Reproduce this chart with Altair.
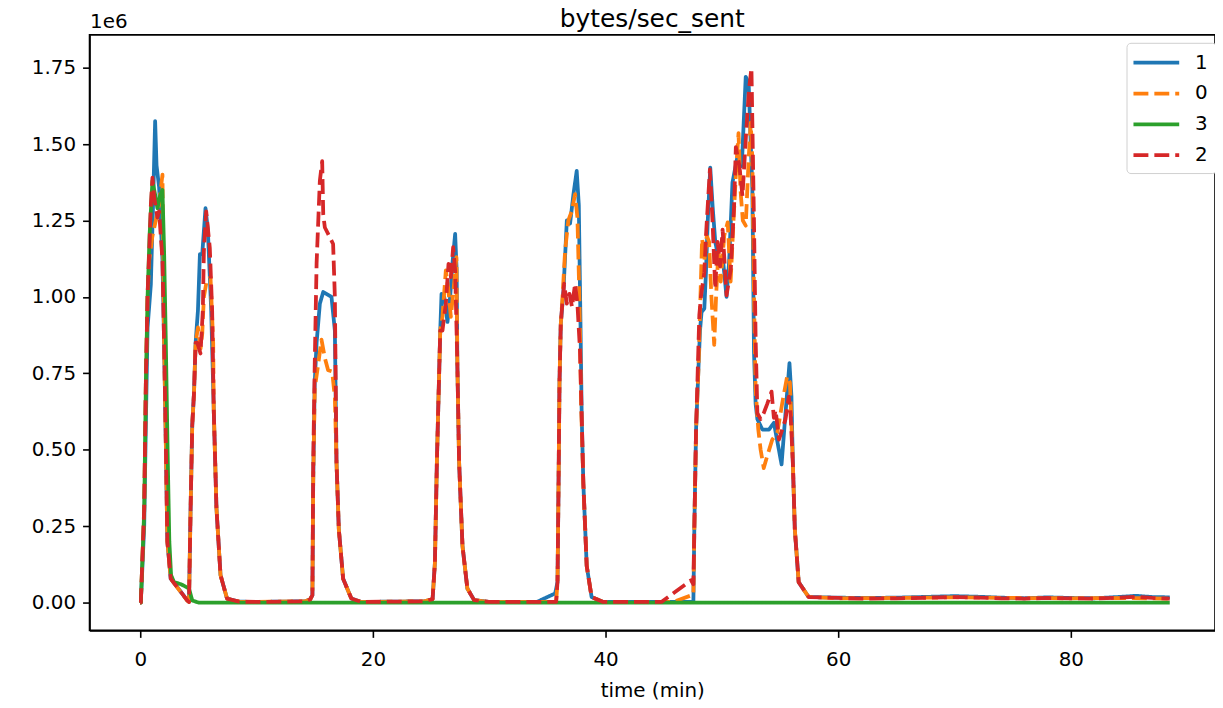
import altair as alt
import pandas as pd

series_names = ["1", "0", "3", "2"]
series_colors = ["#1f77b4", "#ff7f0e", "#2ca02c", "#d62728"]
series_dashes = [[1, 0], [15, 6], [1, 0], [15, 6]]

x_ticks = [0, 20, 40, 60, 80]
y_ticks = [0.0, 0.25, 0.5, 0.75, 1.0, 1.25, 1.5, 1.75]

# (time in min, bytes/sec in units of 1e6)
s1_points = [
    (0.0, 0.0), (0.05, 0.0), (0.34, 0.25), (0.49, 0.6), (0.63, 0.9), (0.91, 1.04), (1.1, 1.3), (1.28, 1.575),
    (1.4, 1.43), (1.62, 1.36), (1.91, 1.12), (2.05, 0.85), (2.2, 0.52), (2.33, 0.2), (2.62, 0.078), (3.3, 0.045),
    (4.04, 0.007), (4.19, 0.002),
    (4.33, 0.31), (4.47, 0.58), (4.62, 0.685), (4.76, 0.85), (4.96, 0.956), (5.13, 1.14), (5.33, 1.14), (5.61, 1.29),
    (5.81, 1.22), (6.1, 0.956), (6.32, 0.63), (6.55, 0.31), (6.9, 0.09), (7.46, 0.013), (8.5, 0.003), (10.0, 0.002),
    (14.16, 0.004), (14.6, 0.01), (14.8, 0.024), (14.87, 0.4), (15.0, 0.72), (15.16, 0.85), (15.44, 0.978), (15.73, 1.016),
    (16.0, 1.01), (16.44, 1.0), (16.73, 0.89), (16.87, 0.46), (17.07, 0.24), (17.44, 0.078), (18.15, 0.013), (19.0, 0.002),
    (24.4, 0.004), (25.13, 0.011), (25.33, 0.13), (25.5, 0.46), (25.64, 0.67), (25.79, 0.89), (25.9, 1.01), (26.13, 1.0),
    (26.41, 0.918), (26.64, 1.0), (26.84, 1.11), (27.07, 1.206), (27.2, 1.087), (27.26, 0.78), (27.41, 0.46), (27.7, 0.186),
    (28.12, 0.046), (28.7, 0.008), (30.0, 0.002),
    (34.1, 0.002), (35.67, 0.03), (35.87, 0.067), (35.96, 0.39), (36.04, 0.72), (36.15, 0.91), (36.38, 1.02), (36.67, 1.25),
    (36.95, 1.24), (37.24, 1.336), (37.52, 1.412), (37.7, 1.3), (37.85, 0.9), (37.95, 0.61), (38.09, 0.39), (38.38, 0.12),
    (38.8, 0.018), (39.8, 0.002),
    (47.55, 0.002), (47.63, 0.24), (47.78, 0.566), (48.0, 0.78), (48.12, 0.89), (48.25, 0.95), (48.49, 0.962), (48.63, 1.08),
    (48.78, 1.244), (49.0, 1.423), (49.2, 1.298), (49.43, 1.18), (49.77, 1.114), (50.06, 1.135), (50.4, 1.0), (50.62, 1.114),
    (50.91, 1.374), (51.34, 1.46), (51.71, 1.428), (52.05, 1.72), (52.3, 1.7), (52.62, 1.352), (52.76, 0.82), (52.9, 0.65),
    (53.05, 0.6), (53.48, 0.566), (54.05, 0.566), (54.47, 0.588), (54.9, 0.5), (55.13, 0.452), (55.47, 0.62), (55.81, 0.783),
    (55.98, 0.674), (56.1, 0.458), (56.27, 0.24), (56.6, 0.067), (57.46, 0.018),
    (60, 0.016), (62, 0.015), (65, 0.016), (68, 0.019), (70, 0.021), (72, 0.019), (74, 0.016), (76, 0.014),
    (78, 0.017), (80, 0.015), (82, 0.014), (84, 0.018), (85.6, 0.022), (87, 0.018), (88.5, 0.017),
]

s0_points = [
    (0.0, 0.0), (0.05, 0.0), (0.34, 0.3), (0.49, 0.74), (0.63, 1.0), (0.77, 1.12), (1.05, 1.2), (1.34, 1.25),
    (1.6, 1.3), (1.91, 1.40), (2.05, 0.85), (2.2, 0.52), (2.33, 0.2), (2.62, 0.078), (4.04, 0.006), (4.19, 0.002),
    (4.33, 0.31), (4.47, 0.58), (4.62, 0.685), (4.76, 0.85), (4.96, 0.9), (5.18, 0.83), (5.33, 0.88), (5.47, 1.0),
    (5.7, 1.05), (6.04, 1.065), (6.27, 0.85), (6.32, 0.63), (6.55, 0.31), (6.9, 0.09), (7.46, 0.013), (8.5, 0.003),
    (10.0, 0.002),
    (14.16, 0.004), (14.6, 0.01), (14.8, 0.024), (14.87, 0.4), (15.0, 0.7), (15.3, 0.78), (15.58, 0.86), (15.87, 0.8),
    (16.15, 0.76), (16.5, 0.756), (16.73, 0.67), (16.87, 0.46), (17.07, 0.24), (17.44, 0.078), (18.15, 0.013), (19.0, 0.002),
    (24.4, 0.004), (25.13, 0.011), (25.33, 0.13), (25.5, 0.46), (25.64, 0.67), (25.79, 0.89), (25.98, 0.935), (26.27, 1.087),
    (26.47, 1.03), (26.7, 0.935), (26.98, 1.043), (27.18, 1.13), (27.26, 0.78), (27.41, 0.46), (27.7, 0.186), (28.12, 0.046),
    (28.7, 0.008), (30.0, 0.002),
    (35.75, 0.002), (35.87, 0.067), (35.96, 0.39), (36.04, 0.72), (36.15, 0.91), (36.3, 1.0), (36.52, 1.15), (36.8, 1.25),
    (37.09, 1.28), (37.38, 1.336), (37.58, 1.26), (37.75, 1.0), (37.9, 0.65), (38.09, 0.39), (38.38, 0.12), (38.8, 0.018),
    (39.8, 0.002),
    (45.8, 0.002), (47.55, 0.026), (47.63, 0.24), (47.78, 0.566), (48.0, 0.78), (48.12, 0.95), (48.3, 1.19), (48.5, 1.12),
    (48.7, 1.2), (48.9, 1.18), (49.1, 1.0), (49.34, 0.843), (49.5, 1.0), (49.7, 1.15), (49.9, 1.05), (50.2, 1.2),
    (50.5, 1.244), (50.75, 1.05), (51.0, 1.25), (51.2, 1.4), (51.43, 1.536), (51.6, 1.35), (51.8, 1.25), (52.05, 1.233),
    (52.3, 1.45), (52.48, 1.57), (52.62, 1.45), (52.76, 1.0), (52.9, 0.7), (53.13, 0.566), (53.33, 0.5), (53.6, 0.44),
    (53.9, 0.48), (54.33, 0.533), (54.76, 0.555), (55.19, 0.653), (55.61, 0.74), (55.85, 0.72), (56.1, 0.458), (56.27, 0.24),
    (56.6, 0.067), (57.46, 0.018),
    (60, 0.014), (65, 0.015), (70, 0.017), (75, 0.015), (80, 0.014), (85, 0.015), (88.5, 0.013),
]

s3_points = [
    (0.0, 0.0), (0.05, 0.0), (0.34, 0.3), (0.49, 0.74), (0.63, 1.0), (0.8, 1.2), (1.05, 1.38), (1.3, 1.33),
    (1.48, 1.29), (1.7, 1.33), (1.91, 1.35), (2.05, 1.15), (2.2, 0.85), (2.35, 0.5), (2.5, 0.2), (2.65, 0.09),
    (2.9, 0.067), (3.5, 0.06), (4.19, 0.046), (4.47, 0.007), (5.0, 0.0), (88.5, 0.0),
]

s2_points = [
    (0.0, 0.0), (0.05, 0.0), (0.34, 0.31), (0.49, 0.74), (0.63, 1.01), (0.77, 1.15), (0.91, 1.30), (1.05, 1.39),
    (1.2, 1.325), (1.48, 1.26), (1.62, 1.28), (1.91, 1.12), (2.05, 0.85), (2.2, 0.52), (2.33, 0.2), (2.62, 0.078),
    (4.04, 0.007), (4.19, 0.002),
    (4.33, 0.31), (4.47, 0.58), (4.62, 0.685), (4.76, 0.85), (4.9, 0.85), (5.18, 0.815), (5.38, 0.956), (5.47, 1.15),
    (5.67, 1.28), (5.98, 1.16), (6.18, 0.956), (6.32, 0.63), (6.55, 0.31), (6.9, 0.09), (7.46, 0.013), (8.5, 0.003),
    (10.0, 0.002),
    (14.16, 0.004), (14.6, 0.01), (14.8, 0.024), (14.87, 0.46), (15.0, 0.78), (15.16, 1.11), (15.44, 1.38), (15.64, 1.444),
    (15.73, 1.27), (15.87, 1.227), (16.15, 1.206), (16.58, 1.173), (16.73, 1.0), (16.87, 0.46), (17.07, 0.24), (17.44, 0.078),
    (18.15, 0.013), (19.0, 0.002),
    (24.4, 0.004), (25.13, 0.011), (25.33, 0.13), (25.5, 0.46), (25.64, 0.67), (25.79, 0.89), (25.98, 0.89), (26.27, 0.978),
    (26.5, 1.108), (26.7, 1.065), (26.9, 1.163), (27.07, 1.087), (27.26, 0.78), (27.41, 0.46), (27.7, 0.186), (28.12, 0.046),
    (28.7, 0.008), (30.0, 0.002),
    (35.75, 0.002), (35.87, 0.067), (35.96, 0.39), (36.04, 0.72), (36.15, 0.91), (36.24, 0.956), (36.44, 1.043), (36.67, 0.978),
    (36.9, 1.01), (37.12, 0.967), (37.38, 1.043), (37.58, 0.978), (37.8, 0.826), (37.95, 0.61), (38.09, 0.39), (38.38, 0.12),
    (38.8, 0.018), (39.8, 0.002),
    (44.8, 0.002), (47.35, 0.073), (47.55, 0.06), (47.63, 0.24), (47.78, 0.566), (48.06, 0.94), (48.2, 1.0), (48.49, 1.08),
    (48.63, 1.2), (48.97, 1.417), (49.2, 1.244), (49.43, 1.027), (49.63, 1.18), (49.85, 1.1), (50.06, 1.22), (50.4, 1.005),
    (50.77, 1.092), (51.05, 1.298), (51.2, 1.49), (51.5, 1.43), (51.77, 1.33), (52.1, 1.547), (52.33, 1.678), (52.54, 1.748),
    (52.62, 1.57), (52.76, 1.244), (52.9, 0.864), (53.05, 0.62), (53.33, 0.6), (53.6, 0.62), (53.9, 0.65), (54.27, 0.69),
    (54.47, 0.604), (54.62, 0.63), (54.9, 0.533), (55.19, 0.566), (55.47, 0.6), (55.75, 0.674), (55.9, 0.62), (56.1, 0.458),
    (56.27, 0.24), (56.6, 0.067), (57.46, 0.018),
    (60, 0.015), (62, 0.013), (65, 0.014), (68, 0.016), (70, 0.018), (72, 0.016), (74, 0.014), (76, 0.013),
    (78, 0.015), (80, 0.014), (82, 0.013), (84, 0.016), (85.6, 0.019), (87, 0.015), (88.5, 0.013),
]

rows = []
for name, pts in zip(series_names, [s1_points, s0_points, s3_points, s2_points]):
    for i, (t, v) in enumerate(pts):
        rows.append({"series": name, "t": t, "v": v, "i": i})
df = pd.DataFrame(rows)

FONT = "DejaVu Sans"

legend_kw = dict(
    title=None,
    orient="none",
    legendX=1043,
    legendY=8,
    labelFontSize=20,
    labelFont=FONT,
    labelColor="black",
    symbolSize=400,
    symbolStrokeWidth=3.8,
    symbolType="M-2.3,0H2.3",
    symbolOffset=10,
    rowPadding=9,
    padding=8,
    labelOffset=27,
    strokeColor="#d0d0d0",
    fillColor="white",
    cornerRadius=4,
)

chart = (
    alt.Chart(df)
    .mark_line(strokeWidth=3.8, strokeCap="butt", strokeJoin="round")
    .encode(
        x=alt.X(
            "t:Q",
            scale=alt.Scale(domain=[-4.36, 92.39], nice=False, zero=False),
            axis=alt.Axis(
                values=x_ticks,
                format="d",
                title="time (min)",
                titleFontSize=20,
                titleFontWeight="normal",
                titleFont=FONT,
                titleColor="black",
                titlePadding=11,
                labelPadding=12,
                grid=False,
            ),
        ),
        y=alt.Y(
            "v:Q",
            scale=alt.Scale(domain=[-0.0911, 1.8573], nice=False, zero=False),
            axis=alt.Axis(
                values=y_ticks,
                format=".2f",
                title="1e6",
                titleAngle=0,
                titleX=0,
                titleY=-7,
                titleAlign="left",
                titleBaseline="alphabetic",
                titleFontSize=20,
                titleFontWeight="normal",
                titleFont=FONT,
                titleColor="black",
                labelPadding=7,
                grid=False,
            ),
        ),
        color=alt.Color(
            "series:N",
            scale=alt.Scale(domain=series_names, range=series_colors),
            sort=series_names,
            legend=alt.Legend(**legend_kw),
        ),
        strokeDash=alt.StrokeDash(
            "series:N",
            scale=alt.Scale(domain=series_names, range=series_dashes),
            sort=series_names,
            legend=alt.Legend(**legend_kw),
        ),
        order="i:Q",
    )
    .properties(
        width=1132,
        height=599,
        title=alt.Title(
            "bytes/sec_sent",
            fontSize=25,
            fontWeight="normal",
            font=FONT,
            color="black",
            frame="group",
            anchor="middle",
            baseline="alphabetic",
            offset=-40,
        ),
        autosize=alt.AutoSizeParams(type="none"),
        padding={"left": 82, "top": 25, "right": 0, "bottom": 70},
    )
    .configure_view(stroke="black", strokeWidth=1.6)
    .configure_axis(
        domainColor="black",
        domainWidth=1.6,
        tickColor="black",
        tickWidth=1.6,
        tickSize=7,
        labelFont=FONT,
        labelFontSize=20,
        labelColor="black",
    )
)

chart.save("out.html", embed_options={"renderer": "svg", "actions": False})
